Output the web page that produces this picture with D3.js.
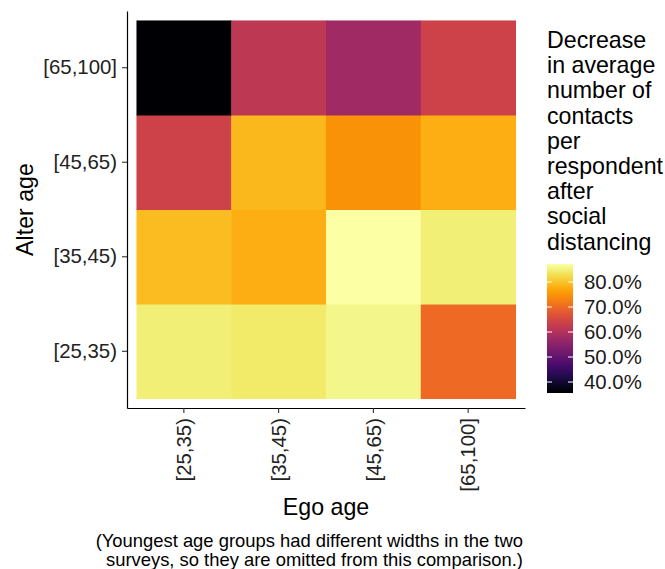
<!DOCTYPE html>
<html>
<head>
<meta charset="utf-8">
<script src="https://cdn.jsdelivr.net/npm/d3@7"></script>
<style>
  html, body { margin: 0; padding: 0; background: #fff; }
  svg { display: block; font-family: "Liberation Sans", Arial, sans-serif; }
</style>
</head>
<body>
<div id="chart"></div>
<script>
// datos
const egoAges = ['[25,35)', '[35,45)', '[45,65)', '[65,100]'];
const alterAges = ['[25,35)', '[35,45)', '[45,65)', '[65,100]'];
// una fila por edad del alter, columnas = edad del ego
const alter25 = [0.846, 0.841, 0.857, 0.702];
const alter35 = [0.792, 0.779, 0.872, 0.846];
const alter45 = [0.640, 0.789, 0.748, 0.779];
const alter65 = [0.356, 0.617, 0.578, 0.640];
const legendTicks = [0.4, 0.5, 0.6, 0.7, 0.8];
const legendTitle = ['Decrease', 'in average', 'number of', 'contacts', 'per',
    'respondent', 'after', 'social', 'distancing'];
const caption = ['(Youngest age groups had different widths in the two',
    'surveys, so they are omitted from this comparison.)'];

const rows = [alter25, alter35, alter45, alter65];
const cells = [];
rows.forEach((r, i) => r.forEach((v, j) => {
    cells.push({ ego: egoAges[j], alter: alterAges[i], value: v });
}));

const width = 665, height = 569;
const panel = { left: 127, right: 525, top: 11, bottom: 408 };

const svg = d3.select('#chart').append('svg')
    .attr('width', width).attr('height', height);

const x = d3.scaleBand().domain(egoAges)
    .range([panel.left, panel.right]).paddingInner(0).paddingOuter(0.1);
const y = d3.scaleBand().domain(alterAges)
    .range([panel.bottom, panel.top]).paddingInner(0).paddingOuter(0.1);

const extent = d3.extent(cells, d => d.value);
const color = d3.scaleSequential(d3.interpolateInferno).domain(extent);

// celdas
svg.append('g').selectAll('rect')
    .data(cells)
    .join('rect')
    .attr('x', d => x(d.ego))
    .attr('y', d => y(d.alter))
    .attr('width', x.bandwidth() + 0.5)
    .attr('height', y.bandwidth() + 0.5)
    .attr('fill', d => color(d.value));

// ejes
const xAxis = svg.append('g')
    .attr('transform', `translate(0,${panel.bottom})`)
    .call(d3.axisBottom(x).tickSize(5).tickSizeOuter(0));
xAxis.selectAll('text')
    .attr('transform', 'rotate(-90)')
    .attr('text-anchor', 'end')
    .attr('x', -10)
    .attr('y', 0)
    .attr('dy', '0.35em')
    .attr('font-size', 20.4)
    .attr('fill', '#222');

const yAxis = svg.append('g')
    .attr('transform', `translate(${panel.left},0)`)
    .call(d3.axisLeft(y).tickSize(5).tickSizeOuter(0));
yAxis.selectAll('text')
    .attr('x', -10)
    .attr('font-size', 20.4)
    .attr('fill', '#222');

svg.selectAll('.domain').attr('stroke', '#000').attr('stroke-width', 1.2);
svg.selectAll('.tick line').attr('stroke', '#333').attr('stroke-width', 1.1);

// títulos de ejes
svg.append('text')
    .attr('x', (panel.left + panel.right) / 2)
    .attr('y', 515)
    .attr('text-anchor', 'middle')
    .attr('font-size', 23.2)
    .text('Ego age');

svg.append('text')
    .attr('transform', `translate(33,${(panel.top + panel.bottom) / 2}) rotate(-90)`)
    .attr('text-anchor', 'middle')
    .attr('font-size', 23.2)
    .text('Alter age');

// nota al pie
svg.append('g').selectAll('text')
    .data(caption)
    .join('text')
    .attr('x', 523)
    .attr('y', (d, i) => 547 + i * 19)
    .attr('text-anchor', 'end')
    .attr('font-size', 18.4)
    .text(d => d);

// leyenda
const lg = svg.append('g');
lg.selectAll('text.title')
    .data(legendTitle)
    .join('text')
    .attr('class', 'title')
    .attr('x', 547)
    .attr('y', (d, i) => 48 + i * 25.2)
    .attr('font-size', 23.2)
    .text(d => d);

const barX = 547, barW = 26;
const ly = d3.scaleLinear().domain(extent).range([393, 264]);

const defs = svg.append('defs');
const grad = defs.append('linearGradient')
    .attr('id', 'legend-gradient')
    .attr('x1', 0).attr('y1', 1).attr('x2', 0).attr('y2', 0);
for (let i = 0; i <= 20; i++) {
    const t = i / 20;
    grad.append('stop')
        .attr('offset', `${t * 100}%`)
        .attr('stop-color', color(extent[0] + t * (extent[1] - extent[0])));
}

lg.append('rect')
    .attr('x', barX).attr('y', ly(extent[1]))
    .attr('width', barW).attr('height', ly(extent[0]) - ly(extent[1]))
    .attr('fill', 'url(#legend-gradient)');

legendTicks.forEach(t => {
    lg.append('line')
        .attr('x1', barX).attr('x2', barX + 5)
        .attr('y1', ly(t)).attr('y2', ly(t))
        .attr('stroke', '#fff').attr('stroke-width', 1);
    lg.append('line')
        .attr('x1', barX + barW - 5).attr('x2', barX + barW)
        .attr('y1', ly(t)).attr('y2', ly(t))
        .attr('stroke', '#fff').attr('stroke-width', 1);
});

lg.selectAll('text.lab')
    .data(legendTicks)
    .join('text')
    .attr('class', 'lab')
    .attr('x', 584)
    .attr('y', d => ly(d))
    .attr('dy', '0.35em')
    .attr('font-size', 20.4)
    .attr('fill', '#1a1a1a')
    .text(d => d3.format('.1%')(d));
</script>
</body>
</html>
